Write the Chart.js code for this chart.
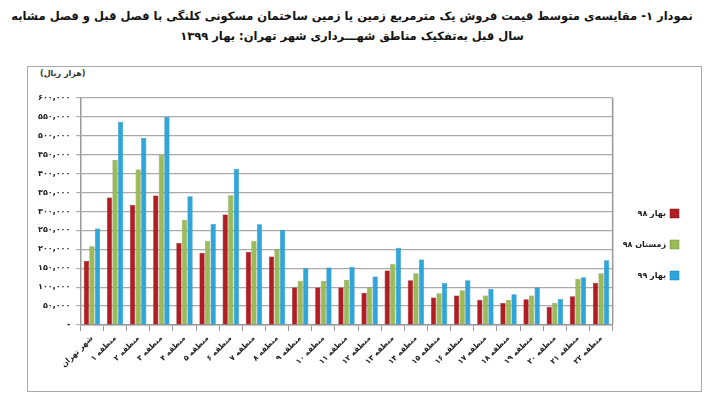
<!DOCTYPE html>
<html><head><meta charset="utf-8">
<script src="https://cdn.jsdelivr.net/npm/chart.js@4"></script>
<style>
body{margin:0;width:704px;height:400px;background:#fff;font-family:"DejaVu Sans",sans-serif;position:relative;overflow:hidden}
#t{position:absolute;top:6px;left:0;width:704px;text-align:center;direction:rtl;font-weight:bold;font-size:11.5px;line-height:20px;color:#111}
#f{position:absolute;left:27px;top:66px;width:675px;height:326px;border:1px solid #aaa;box-sizing:border-box}
#u{position:absolute;left:12px;top:2px;font-size:8px;font-weight:bold;direction:rtl;color:#333}
canvas{position:absolute;left:0;top:0}
</style></head><body>
<div id="t">نمودار ۱- مقایسه‌ی متوسط قیمت فروش یک مترمربع زمین یا زمین ساختمان مسکونی کلنگی با فصل قبل و فصل مشابه<br>سال قبل به‌تفکیک مناطق شهـــرداری شهر تهران: بهار ۱۳۹۹</div>
<div id="f"><div id="u">(هزار ریال)</div><canvas id="c" width="673" height="324"></canvas></div>
<script>
const categories=["شهر تهران","منطقه ۱","منطقه ۲","منطقه ۳","منطقه ۴","منطقه ۵","منطقه ۶","منطقه ۷","منطقه ۸","منطقه ۹","منطقه ۱۰","منطقه ۱۱","منطقه ۱۲","منطقه ۱۳","منطقه ۱۴","منطقه ۱۵","منطقه ۱۶","منطقه ۱۷","منطقه ۱۸","منطقه ۱۹","منطقه ۲۰","منطقه ۲۱","منطقه ۲۲"];
const spring98=[169000,337000,318000,342000,217000,191000,292000,193000,181000,99000,99000,99000,85000,144000,118000,73000,78000,67000,58000,68000,48000,76000,112000];
const winter98=[208000,436000,411000,450000,278000,223000,343000,223000,200000,117000,116000,119000,99000,162000,137000,84000,92000,78000,66000,78000,58000,122000,137000];
const spring99=[255000,537000,494000,550000,340000,267000,413000,266000,252000,150000,152000,153000,128000,204000,173000,111000,118000,96000,81000,99000,69000,126000,171000];
const seriesNames=["بهار ۹۸","زمستان ۹۸","بهار ۹۹"];
const fa=n=>String(n).replace(/\d/g,d=>"۰۱۲۳۴۵۶۷۸۹"[d]);
const fmt=v=>v===0?"-":fa(v.toLocaleString("en-US"));
const frame={id:'frame',afterDraw(c){const a=c.chartArea,x=c.ctx;x.save();x.strokeStyle='#999';x.lineWidth=1.5;x.beginPath();x.moveTo(a.right,a.top);x.lineTo(a.right,a.bottom);x.stroke();x.restore();}};
new Chart(document.getElementById('c'),{type:'bar',
data:{labels:categories,datasets:[
{label:seriesNames[0],data:spring98,backgroundColor:'#b01e23',borderColor:'#7a1015',borderWidth:0.5},
{label:seriesNames[1],data:winter98,backgroundColor:'#9bbb59',borderColor:'#6f8a3a',borderWidth:0.5},
{label:seriesNames[2],data:spring99,backgroundColor:'#2ea6db',borderColor:'#1c7aa6',borderWidth:0.5}]},
options:{responsive:false,animation:false,
layout:{padding:{top:31,right:0,left:4,bottom:0}},
datasets:{bar:{categoryPercentage:0.72,barPercentage:0.95}},
plugins:{legend:{position:'right',rtl:true,labels:{boxWidth:9,boxHeight:9,padding:22,font:{family:"DejaVu Sans",size:8,weight:'bold'},color:'#222'}},tooltip:{enabled:false}},
scales:{x:{afterFit:s=>{s.height=66;},grid:{display:true,drawOnChartArea:false,tickLength:6,color:'#999'},border:{color:'#999',width:1.5},
ticks:{maxRotation:45,minRotation:45,autoSkip:false,font:{family:"DejaVu Sans",size:7.5,weight:'bold'},color:'#222'}},
y:{min:0,max:600000,ticks:{stepSize:50000,callback:v=>fmt(v),font:{family:"DejaVu Sans",size:8,weight:'bold'},color:'#222',padding:6},
grid:{color:'#aaa',lineWidth:1.2,tickLength:4},border:{color:'#999',width:1.5}}}},
plugins:[frame]});
</script></body></html>
